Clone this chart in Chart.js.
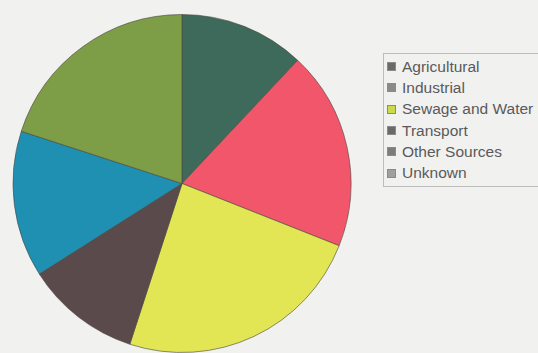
<!DOCTYPE html>
<html lang="en">
  <head>
    <meta charset="UTF-8" />
    <title>Pollution Sources</title>
    <script src="https://cdn.jsdelivr.net/npm/chart.js@4.4.0/dist/chart.umd.min.js"></script>
    <style>
      body {
        margin: 0;
        width: 538px;
        height: 353px;
        background: #f1f1f0;
        overflow: hidden;
        position: relative;
        font-family: "Liberation Sans", Arial, sans-serif;
      }
      #pieWrap {
        position: absolute;
        left: 11px;
        top: 14px;
        width: 342px;
        height: 339px;
      }
      #legend {
        position: absolute;
        left: 383px;
        top: 53px;
        width: 170px;
        height: 134px;
        border: 1px solid #bdbdbd;
        box-sizing: border-box;
        padding-top: 2px;
      }
      .item {
        height: 21.3px;
        display: flex;
        align-items: center;
        font-size: 15.5px;
        color: #5a5a5a;
        padding-left: 3px;
        white-space: nowrap;
      }
      .swatch {
        width: 7px;
        height: 7px;
        margin-right: 6px;
        border: 1px solid #8a8a8a;
        flex: none;
      }
    </style>
  </head>
  <body>
    <div id="pieWrap"><canvas id="pieChart"></canvas></div>
    <div id="legend"></div>

    <script>
      // Share of each source (percent)
      const sources = [
        "Agricultural",
        "Industrial",
        "Sewage and Water",
        "Transport",
        "Other Sources",
        "Unknown",
      ];
      const shares = [12, 19, 24, 11, 14, 20];

      const sliceColors = ["#3e6a5b", "#f2566b", "#e2e655", "#5b4a4c", "#2090b2", "#7e9d47"];
      // legend swatches look washed out in the picture
      const swatchColors = ["#6a6a6a", "#8a8a8a", "#cbd94c", "#6a6a6a", "#7c7c7c", "#a0a0a0"];

      function buildLegend() {
        const box = document.getElementById("legend");
        sources.forEach((name, i) => {
          box.insertAdjacentHTML(
            "beforeend",
            `<div class="item"><span class="swatch" style="background:${swatchColors[i]}"></span>${name}</div>`
          );
        });
      }

      function init() {
        const ctx = document.getElementById("pieChart").getContext("2d");
        new Chart(ctx, {
          type: "pie",
          data: {
            labels: sources,
            datasets: [
              {
                data: shares,
                backgroundColor: sliceColors,
                borderColor: "rgba(70, 70, 60, 0.6)",
                borderWidth: 1,
              },
            ],
          },
          options: {
            responsive: true,
            maintainAspectRatio: false,
            animation: false,
            layout: { padding: 0 },
            plugins: {
              legend: { display: false },
              tooltip: { enabled: false },
            },
          },
        });
        buildLegend();
      }

      window.onload = init;
    </script>
  </body>
</html>
